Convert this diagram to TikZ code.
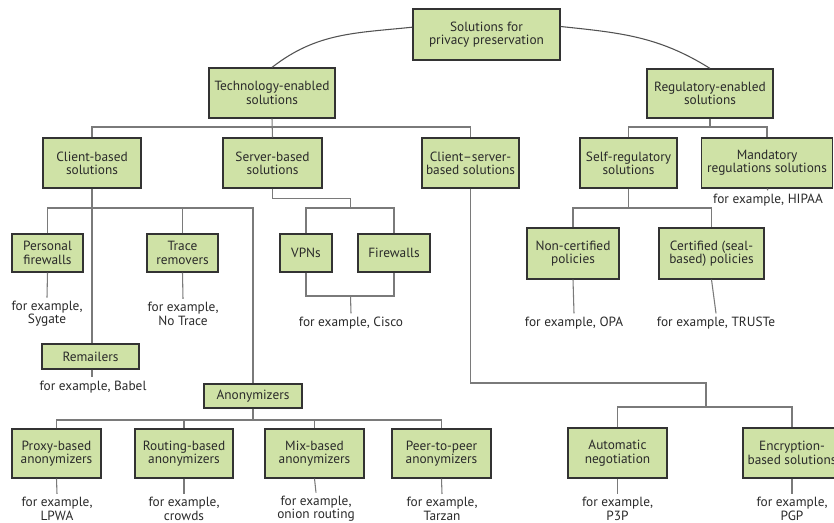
\documentclass[tikz,border=0pt]{standalone}
\usepackage{fontspec}
\setmainfont{PT Sans}
\definecolor{boxfill}{HTML}{CFE2A6}
\definecolor{boxline}{HTML}{333333}
\definecolor{conn}{HTML}{7A7A7A}
\definecolor{txt}{HTML}{2A2A2A}
\newcommand\dfs{\fontsize{10}{10}\selectfont}
\begin{document}
\begin{tikzpicture}[x=0.75pt,y=-0.75pt,
  box/.style={draw=boxline, fill=boxfill, line width=0.9pt, align=center,
    inner sep=1pt, font=\dfs, text=txt},
  sz/.style 2 args={minimum width=#1*0.75pt, minimum height=#2*0.75pt},
  ex/.style={align=center, inner xsep=1pt, inner ysep=2.5pt, font=\dfs, text=txt},
  ln/.style={draw=conn, line width=0.8pt},
  curve/.style={draw=boxline!85, line width=0.8pt}]
\fill[white] (0,0) rectangle (834,522);
\useasboundingbox (0,0) rectangle (834,522);

% boxes
\node[box,sz={147}{51}] (root) at (486.5,34.5) {Solutions for\\privacy preservation};
\node[box,sz={126}{50}] (tech) at (272,93) {Technology-enabled\\solutions};
\node[box,sz={126}{49}] (reg) at (710,93.5) {Regulatory-enabled\\solutions};
\node[box,sz={98}{50}] (client) at (92,163) {Client-based\\solutions};
\node[box,sz={99}{50}] (server) at (272.5,163) {Server-based\\solutions};
\node[box,sz={97}{50}] (cs) at (470.5,163) {Client--server-\\based solutions};
\node[box,sz={97}{50}] (self) at (628.5,163) {Self-regulatory\\solutions};
\node[box,sz={131}{50}] (mand) at (767,163) {Mandatory\\regulations solutions};
\node[box,sz={71}{38}] (pf) at (47.5,253) {Personal\\firewalls};
\node[box,sz={71}{38}] (tr) at (182.5,253) {Trace\\removers};
\node[box,sz={52}{38}] (vpn) at (306,253) {VPNs};
\node[box,sz={72}{38}] (fw) at (394,253) {Firewalls};
\node[box,sz={97}{25}] (rem) at (90.5,356.5) {Remailers};
\node[box,sz={92}{51}] (noncert) at (573,253.5) {Non-certified\\policies};
\node[box,sz={105}{51}] (cert) at (711.5,253.5) {Certified (seal-\\based) policies};
\node[box,sz={98}{24}] (anon) at (253,396) {Anonymizers};
\node[box,sz={89}{49}] (proxy) at (56.5,453.5) {Proxy-based\\anonymizers};
\node[box,sz={98}{49}] (routing) at (184,453.5) {Routing-based\\anonymizers};
\node[box,sz={99}{49}] (mix) at (314.5,453.5) {Mix-based\\anonymizers};
\node[box,sz={99}{49}] (peer) at (441.5,453.5) {Peer-to-peer\\anonymizers};
\node[box,sz={99}{50}] (auto) at (617.5,453) {Automatic\\negotiation};
\node[box,sz={98}{50}] (enc) at (792,453) {Encryption-\\based solutions};

% examples
\node[ex] (exPF) at (47,314) {for example,\\Sygate};
\node[ex] (exTR) at (183,314) {for example,\\No Trace};
\node[ex] (exCisco) at (351,323) {for example, Cisco};
\node[ex] (exBabel) at (93,387) {for example, Babel};
\node[ex] (exHIPAA) at (768,200) {for example, HIPAA};
\node[ex] (exOPA) at (574,323) {for example, OPA};
\node[ex] (exTRUSTe) at (716,323) {for example, TRUSTe};
\node[ex] (exLPWA) at (57,509) {for example,\\LPWA};
\node[ex] (exCrowds) at (184,509) {for example,\\crowds};
\node[ex] (exOnion) at (316,509) {for example,\\onion routing};
\node[ex] (exTarzan) at (442,509) {for example,\\Tarzan};
\node[ex] (exP3P) at (617.5,509) {for example,\\P3P};
\node[ex] (exPGP) at (792,509) {for example,\\PGP};

% junction coordinates
\coordinate (vfTop) at (350.5,208);
\coordinate (vfBot) at (350.5,296);
\coordinate (aeTop) at (706,407);

% curves from root
\draw[curve] ([yshift=5.5pt]root.west) to[out=186,in=38] (tech.north);
\draw[curve] ([yshift=6pt]root.east) to[out=-6,in=148] (reg.north);

% technology branch
\draw[ln] (tech.south) -- (server.north);
\draw[ln] (client.north) -- (client.north |- 0,127) -| (cs.north);
% regulatory branch
\draw[ln] (reg.south) -- (reg.south |- 0,127);
\draw[ln] (self.north) -- (self.north |- 0,127) -| (mand.north);
\draw[ln] (mand.south) -- (exHIPAA.north);

% client-based
\draw[ln] (client.south) -- (client.south |- rem.north);
\draw[ln] (pf.north) -- (pf.north |- 0,208) -| (anon.north);
\draw[ln] (tr.north) -- (tr.north |- 0,208);
\draw[ln] (pf.south) -- (exPF.north);
\draw[ln] (tr.south) -- (exTR.north);
\draw[ln] (rem.south -| client.south) -- (exBabel.north -| client.south);

% server-based
\draw[ln] (server.south) -- ++(0,10) -| (vfTop);
\draw[ln] (vpn.north) -- (vpn.north |- vfTop) -| (fw.north);
\draw[ln] (vpn.south) -- (vpn.south |- vfBot) -| (fw.south);
\draw[ln] (vfBot) -- (exCisco.north);

% client-server
\draw[ln] (cs.south) -- (cs.south |- 0,383) -| (aeTop);
\draw[ln] (auto.north) -- (auto.north |- aeTop) -| (enc.north);
\draw[ln] (auto.south) -- (exP3P.north);
\draw[ln] (enc.south) -- (exPGP.north);

% self-regulatory
\draw[ln] (self.south) -- (self.south |- 0,208);
\draw[ln] (noncert.north) -- (noncert.north |- 0,208) -| (cert.north);
\draw[ln] (noncert.south) -- (exOPA.north);
\draw[ln] (cert.south) -- (exTRUSTe.north);

% anonymizers
\draw[ln] (anon.south) -- (anon.south |- 0,420);
\draw[ln] (proxy.north) -- (proxy.north |- 0,420) -| (peer.north);
\draw[ln] (routing.north) -- (routing.north |- 0,420);
\draw[ln] (mix.north) -- (mix.north |- 0,420);
\draw[ln] (proxy.south) -- (exLPWA.north);
\draw[ln] (routing.south) -- (exCrowds.north);
\draw[ln] (mix.south) -- (exOnion.north);
\draw[ln] (peer.south) -- (exTarzan.north);
\end{tikzpicture}
\end{document}
